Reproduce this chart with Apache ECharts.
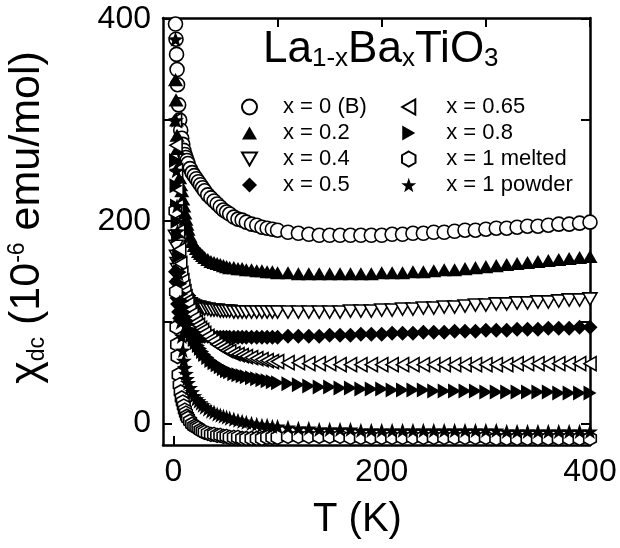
<!DOCTYPE html>
<html>
<head>
<meta charset="utf-8">
<script src="https://cdn.jsdelivr.net/npm/echarts@6/dist/echarts.min.js"></script>
<style>html,body{margin:0;padding:0;background:#fff;}#c{width:620px;height:548px;}</style>
</head>
<body>
<div id="c"></div>
<script>
// Temperature grid (K): dense below 100 K, 10 K steps above
const tempsLow = [2,2.5,3,3.5,4,5,6,7,8,9,10,11,12,13,14,16,18,20,22,24,26,28,30,33,36,39,42,45,48,51,54,58,62,66,70,75,80,85,90,95];
const tempsHigh = [100,110,120,130,140,150,160,170,180,190,200,210,220,230,240,250,260,270,280,290,300,310,320,330,340,350,360,370,380,390,400];

// chi_dc (1e-6 emu/mol), low-T part and high-T part for each composition
const x0B_low = [395,380,365,350,335,315,300,290,282,276,270,266,263,260,257,252,248,245,242,239,236,233,230,226,223,220,217,214,211,209,207,204,202,201,199,197,196,194,193,192];
const x0B_high = [191,189,188,187,186,186,186,186,186,186,186,187,187,188,188,189,189,190,191,191,192,193,193,194,195,195,196,197,197,198,199];
const x02_low = [340,320,300,285,272,255,243,236,230,222,215,208,202,197,192,185,180,176,173,170,168,166,164,162,160,159,158,157,156,155,154,154,153,153,152,152,151,151,150,150];
const x02_high = [149,149,148,148,148,148,148,148,148,148,149,149,149,150,150,151,152,152,153,154,155,156,157,158,159,160,161,162,163,164,165];
const x04_low = [185,175,165,158,152,143,137,132,129,127,125,123,122,121,120,118,117,116,115,115,114,114,113,113,112,112,112,111,111,111,111,110,110,110,110,110,110,110,110,110];
const x04_high = [110,110,110,110,110,110,110,111,111,111,112,112,113,113,114,114,115,115,116,117,117,118,118,119,119,120,120,121,122,122,123];
const x05_low = [150,140,130,124,118,110,104,100,97,95,94,93,92,91,90,89,88,88,87,87,87,86,86,86,86,85,85,85,85,85,85,85,85,85,85,85,85,85,85,85];
const x05_high = [85,86,86,86,86,87,87,87,88,88,88,89,89,89,90,90,90,91,91,91,92,92,92,93,93,93,94,94,94,95,95];
const x065_low = [300,275,250,232,215,190,172,158,148,141,135,130,125,121,118,112,108,104,100,97,94,92,89,86,83,81,78,76,74,72,71,69,68,67,66,65,64,63,62,61];
const x065_high = [61,60,60,59,59,59,58,58,58,58,58,58,58,58,58,58,58,58,58,58,58,58,58,59,59,59,59,59,59,59,59];
const x08_low = [260,235,215,200,185,165,150,138,128,121,115,110,105,101,98,92,87,83,80,77,74,71,68,65,62,60,58,56,54,52,51,49,48,47,46,45,44,43,42,41];
const x08_high = [40,39,38,37,36,36,35,35,34,34,34,33,33,33,33,32,32,32,32,32,31,31,31,31,31,31,31,30,30,30,30];
const x1melted_low = [210,130,95,78,66,48,38,31,25,21,17,13,10,7,5,2,-1,-3,-4,-5,-7,-8,-9,-10,-11,-11,-12,-12,-13,-13,-14,-14,-14,-15,-15,-15,-15,-15,-14,-14];
const x1melted_high = [-14,-13,-13,-13,-13,-13,-13,-14,-14,-14,-14,-14,-14,-14,-14,-14,-14,-14,-14,-14,-14,-15,-15,-15,-15,-15,-15,-15,-15,-15,-15];
const x1powder_low = [380,300,250,215,190,148,120,100,86,72,62,55,49,44,40,35,31,27,24,22,20,18,16,14,12,11,9,8,7,6,5,4,3,2,1,0,-1,-2,-2,-3];
const x1powder_high = [-3,-4,-5,-5,-6,-6,-6,-6,-7,-7,-7,-7,-7,-7,-7,-7,-7,-7,-7,-7,-7,-7,-8,-8,-8,-8,-8,-8,-8,-8,-8];

const seriesNames = ['x = 0 (B)','x = 0.2','x = 0.4','x = 0.5','x = 0.65','x = 0.8','x = 1 melted','x = 1 powder'];
const xTickValues = [0,100,200,300,400];
const xLabelValues = [0,200,400];
const yTickValues = [0,100,200,300,400];
const yLabelValues = [0,200,400];

const temps = tempsLow.concat(tempsHigh);
const allVals = [
  x0B_low.concat(x0B_high), x02_low.concat(x02_high), x04_low.concat(x04_high), x05_low.concat(x05_high),
  x065_low.concat(x065_high), x08_low.concat(x08_high), x1melted_low.concat(x1melted_high), x1powder_low.concat(x1powder_high)
];

const FONT = 'Liberation Sans, Arial, Helvetica, sans-serif';
const SYM = {
  up: 'path://M50,0 L100,87 L0,87 Z',
  down: 'path://M0,0 L100,0 L50,87 Z',
  diamond: 'path://M50,0 L100,50 L50,100 L0,50 Z',
  left: 'path://M87,0 L87,100 L0,50 Z',
  right: 'path://M0,0 L87,50 L0,100 Z',
  hex: 'path://M45,0 L90,25 L90,75 L45,100 L0,75 L0,25 Z',
  star: 'path://M50,0 L61.8,33.8 L97.6,34.5 L69,56.2 L79.4,90.5 L50,70 L20.6,90.5 L31,56.2 L2.4,34.5 L38.2,33.8 Z'
};
const openStyle = {color:'#fff', borderColor:'#000', borderWidth:1.6, opacity:1};
const fillStyle = {color:'#000', borderColor:'#000', borderWidth:0, opacity:1};
const styles = [
  ['circle', openStyle, 14], [SYM.up, fillStyle, 15], [SYM.down, openStyle, 14], [SYM.diamond, fillStyle, 15],
  [SYM.left, openStyle, 14], [SYM.right, fillStyle, 15], [SYM.hex, openStyle, 14], [SYM.star, fillStyle, 16]
];

const series = allVals.map((vals, k) => ({
  name: seriesNames[k], type: 'scatter', xAxisIndex: 0, yAxisIndex: 0,
  symbol: styles[k][0], symbolSize: styles[k][2], symbolKeepAspect: true,
  itemStyle: styles[k][1], emphasis: {disabled: true}, animation: false,
  data: temps.map((t, i) => [t, vals[i]])
}));

function axisCommon(extra) {
  return Object.assign({
    type: 'value', splitLine: {show: false},
    axisLine: {show: true, onZero: false, lineStyle: {color: '#000', width: 2.5}}
  }, extra);
}
const tickStyle = (vals) => ({show: true, inside: true, length: 9, customValues: vals, lineStyle: {color: '#000', width: 2}});

const legendText = {fontSize: 22, fontFamily: FONT, color: '#000'};
const chart = echarts.init(document.getElementById('c'), null, {renderer: 'canvas'});
chart.setOption({
  animation: false,
  backgroundColor: '#fff',
  title: {
    text: '{m|La}{s|1-x}{m|Ba}{s|x}{m|TiO}{s|3}',
    left: 263, top: 28, padding: 0,
    textStyle: {fontWeight: 'normal', rich: {
      m: {fontSize: 44, lineHeight: 44, verticalAlign: 'top', fontFamily: FONT, fontWeight: 'normal', color: '#000'},
      s: {fontSize: 26, lineHeight: 26, padding: [30, 0, 0, 0], verticalAlign: 'bottom', fontFamily: FONT, fontWeight: 'normal', color: '#000'}
    }}
  },
  legend: [
    {data: seriesNames.slice(0, 4), orient: 'vertical', left: 241, top: 96, padding: 0,
     itemWidth: 15, itemHeight: 15, itemGap: 4, selectedMode: false,
     textStyle: Object.assign({padding: [0, 0, 0, 21]}, legendText)},
    {data: seriesNames.slice(4), orient: 'vertical', left: 401, top: 96, padding: 0,
     itemWidth: 15, itemHeight: 15, itemGap: 4, selectedMode: false,
     textStyle: Object.assign({padding: [0, 0, 0, 25]}, legendText)}
  ],
  grid: {left: 163, right: 30, top: 18, bottom: 103, containLabel: false, outerBoundsMode: 'none'},
  xAxis: [
    axisCommon({position: 'bottom', min: -10, max: 400,
      name: 'T (K)', nameLocation: 'middle', nameGap: 55,
      nameTextStyle: {fontSize: 40, fontFamily: FONT, color: '#000', padding: [0, 38, 0, 0]},
      axisTick: tickStyle(xTickValues),
      axisLabel: {customValues: xLabelValues, fontSize: 32, fontFamily: FONT, color: '#000', margin: 11}}),
    axisCommon({position: 'top', min: -10, max: 400,
      axisTick: tickStyle(xTickValues), axisLabel: {show: false}})
  ],
  yAxis: [
    axisCommon({position: 'left', min: -21.5, max: 401,
      name: '{m|χ}{sb|dc}{m| (10}{sp|-6}{m| emu/mol)}', nameLocation: 'middle', nameGap: 114,
      nameTextStyle: {fontFamily: FONT, color: '#000', padding: [0, 0, 0, 28], rich: {
        m: {fontSize: 43, lineHeight: 43, verticalAlign: 'middle', fontFamily: FONT, color: '#000'},
        sb: {fontSize: 23, lineHeight: 23, padding: [38, 0, 0, 0], verticalAlign: 'bottom', fontFamily: FONT, color: '#000'},
        sp: {fontSize: 23, lineHeight: 23, padding: [0, 0, 38, 0], verticalAlign: 'top', fontFamily: FONT, color: '#000'}
      }},
      axisTick: tickStyle(yTickValues),
      axisLabel: {customValues: yLabelValues, fontSize: 32, fontFamily: FONT, color: '#000', margin: 12}}),
    axisCommon({position: 'right', min: -21.5, max: 401,
      axisTick: tickStyle(yTickValues), axisLabel: {show: false}})
  ],
  series: series
});
</script>
</body>
</html>
